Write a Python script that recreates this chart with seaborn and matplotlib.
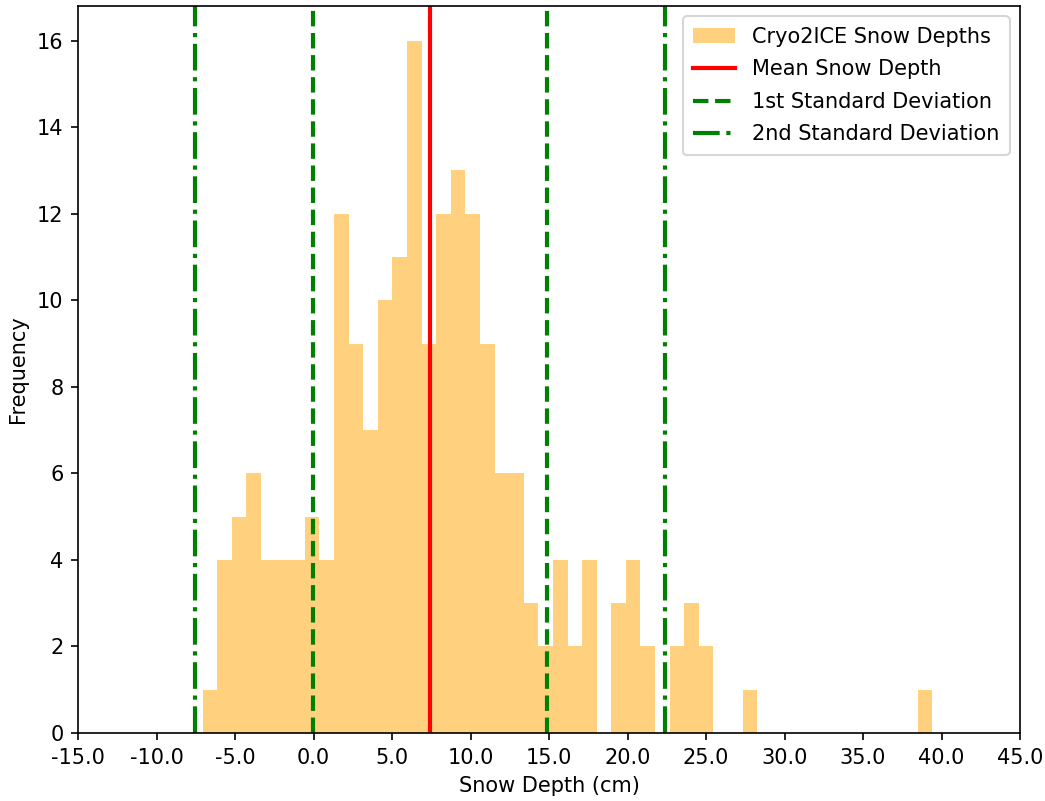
import numpy as np
import pandas as pd
import matplotlib
matplotlib.use("Agg")
import matplotlib.pyplot as plt
import matplotlib.patches as mpatches
import matplotlib.lines as mlines
import seaborn as sns

# ---- data ----
bin_min = -7.06
bin_max = 39.42
n_bins = 50
counts = [1, 4, 5, 6, 4, 4, 4, 5, 4, 12,
          9, 7, 10, 11, 16, 9, 12, 13, 12, 9,
          6, 6, 3, 2, 4, 2, 4, 0, 3, 4,
          2, 0, 2, 3, 2, 0, 0, 1, 0, 0,
          0, 0, 0, 0, 0, 0, 0, 0, 0, 1]
mean_depth = 7.42
std_depth = 7.47
xtick_values = [-15, -10, -5, 0, 5, 10, 15, 20, 25, 30, 35, 40, 45]
hist_label = "Cryo2ICE Snow Depths"
mean_label = "Mean Snow Depth"
std1_label = "1st Standard Deviation"
std2_label = "2nd Standard Deviation"

edges = np.linspace(bin_min, bin_max, n_bins + 1)
centers = (edges[:-1] + edges[1:]) / 2
df = pd.DataFrame({"depth": centers, "count": np.array(counts, dtype=float)})

fig = plt.figure(figsize=(1045 / 150, 801 / 150), dpi=150)
ax = fig.add_axes([78 / 1045, 1 - 733 / 801, (1020 - 78) / 1045, (733 - 6) / 801])

sns.histplot(data=df, x="depth", weights="count", bins=n_bins,
             binrange=(bin_min, bin_max), ax=ax,
             color="orange", alpha=0.5, linewidth=0)

ax.axvline(mean_depth, color="red", lw=2)
ax.axvline(mean_depth - std_depth, color="green", lw=2, ls="--")
ax.axvline(mean_depth + std_depth, color="green", lw=2, ls="--")
ax.axvline(mean_depth - 2 * std_depth, color="green", lw=2, ls="-.")
ax.axvline(mean_depth + 2 * std_depth, color="green", lw=2, ls="-.")

ax.set_xlim(xtick_values[0], xtick_values[-1])
ax.set_ylim(0, max(counts) * 1.05)
ax.set_xticks(xtick_values)
ax.set_xticklabels([f"{v:.1f}" for v in xtick_values])
ax.set_xlabel("Snow Depth (cm)")
ax.set_ylabel("Frequency")

handles = [
    mpatches.Patch(facecolor="orange", alpha=0.5, label=hist_label),
    mlines.Line2D([], [], color="red", lw=2, label=mean_label),
    mlines.Line2D([], [], color="green", lw=2, ls="--", label=std1_label),
    mlines.Line2D([], [], color="green", lw=2, ls="-.", label=std2_label),
]
ax.legend(handles=handles, loc="upper right", labelspacing=0.6, borderpad=0.5)

fig.savefig("out.png", dpi=150)
